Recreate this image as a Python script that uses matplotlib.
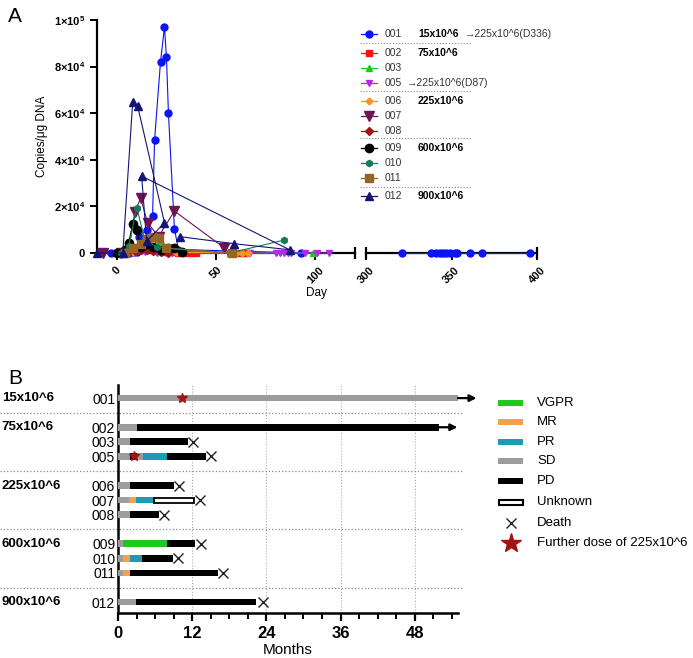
import numpy as np
import matplotlib
matplotlib.use('Agg')
import matplotlib.pyplot as plt
import matplotlib.transforms as mtransforms
from matplotlib.patches import Rectangle

plt.rcParams['font.family'] = ['Liberation Sans', 'DejaVu Sans']
plt.rcParams['mathtext.fontset'] = 'custom'
plt.rcParams['mathtext.rm'] = 'Liberation Sans'
plt.rcParams['mathtext.bf'] = 'Liberation Sans:bold'

# ---- Panel A data (day, copies/ug DNA), in recorded order ----
d001_day = [-3, 0, 2, 4, 6, 8, 10, 11, 15, 18, 19, 22, 24, 25, 26, 29, 31, 93,
            321, 338, 341, 343, 345, 347, 349, 352, 353, 361, 368, 396]
d001_val = [0, 0, 0, 0, 100, 300, 600, 7000, 10000, 16000, 48500, 82000, 97000, 84000,
            60000, 10500, 1500, 0, 0, 0, 0, 0, 0, 0, 0, 0, 0, 0, 0, 0]
d002_day = [2, 5, 8, 10, 12, 14, 16, 18, 20, 22, 24, 26, 28, 31, 34, 37, 40, 58, 62, 65]
d002_val = [0, 300, 800, 1200, 1500, 2500, 2000, 1500, 1000, 800, 600, 500, 300, 200,
            100, 0, 0, 0, 0, 0]
d003_day = [1, 5, 10, 15, 19, 22, 26, 57, 99]
d003_val = [0, 500, 2000, 4500, 2500, 5000, 1500, 0, 0]
d005_day = [-8, 0, 3, 6, 9, 14, 20, 28, 67, 80, 82, 84, 86, 88, 95, 101, 107]
d005_val = [0, 0, 0, 100, 200, 300, 100, 0, 0, 0, 0, 0, 0, 0, 0, 0, 0]
d006_day = [3, 8, 12, 15, 18, 22, 26, 30, 60, 63, 66]
d006_val = [0, 500, 1500, 2500, 2000, 1200, 800, 300, 0, 0, 0]
d007_day = [-7, 2, 6, 9, 12, 15.5, 21, 29, 54]
d007_val = [0, 0, 1000, 17500, 23500, 13000, 7000, 18000, 2300]
d008_day = [5, 9, 12, 15, 18, 22, 26]
d008_val = [0, 800, 1500, 1200, 1000, 500, 200]
d009_day = [0, 4, 6, 8, 10, 12, 15, 18, 22, 26, 29, 33]
d009_val = [0, 1500, 4500, 12500, 10000, 2500, 4000, 2500, 1500, 2000, 2000, 500]
d010_day = [2, 6, 10, 14, 20, 57, 84]
d010_val = [0, 3000, 19500, 6000, 2500, 0, 5500]
d011_day = [4, 8, 12, 15, 18, 21, 25, 58]
d011_val = [0, 2000, 4000, 6000, 7000, 6500, 2000, 0]
d012_day = [-10, 3, 8, 10.5, 24, 15, 12.5, 87, 59, 32]
d012_val = [0, 0, 65000, 63000, 13000, 5000, 33000, 1400, 4000, 7000]

pat_ids = ['001', '002', '003', '005', '006', '007', '008', '009', '010', '011', '012']
pat_days = [d001_day, d002_day, d003_day, d005_day, d006_day, d007_day, d008_day,
            d009_day, d010_day, d011_day, d012_day]
pat_vals = [d001_val, d002_val, d003_val, d005_val, d006_val, d007_val, d008_val,
            d009_val, d010_val, d011_val, d012_val]
pat_colors = ['#0a14f5', '#f51414', '#1ec81e', '#b428e6', '#f5961e', '#6e1450',
              '#a01414', '#000000', '#14785a', '#966423', '#141478']
pat_markers = ['o', 's', '^', 'v', 'D', 'v', 'D', 'o', 'h', 's', '^']
pat_msize = [5, 5, 5, 5, 3.5, 7, 4.5, 6, 4.5, 6, 6]
legend_dose = ['15x10^6', '75x10^6', '', '', '225x10^6', '', '', '600x10^6', '', '', '900x10^6']
legend_note = ['\u2192225x10^6(D336)', '', '', '\u2192225x10^6(D87)', '', '', '', '', '', '', '']

# ---- Panel B data: response segments (category, end month) ----
b_ids = ['001', '002', '003', '005', '006', '007', '008', '009', '010', '011', '012']
b_rows = [0, 2, 3, 4, 6, 7, 8, 10, 11, 12, 14]
seg_001 = [('SD', 55)]
seg_002 = [('SD', 3.0), ('PD', 51.9)]
seg_003 = [('SD', 1.9), ('PD', 11.4)]
seg_005 = [('SD', 1.9), ('PD', 3.0), ('SD', 4.0), ('PR', 8.0), ('PD', 14.3)]
seg_006 = [('SD', 1.9), ('PD', 9.0)]
seg_007 = [('SD', 1.8), ('MR', 2.9), ('PR', 5.9), ('Unknown', 12.3)]
seg_008 = [('SD', 1.9), ('PD', 6.7)]
seg_009 = [('SD', 0.8), ('VGPR', 8.0), ('PD', 12.5)]
seg_010 = [('SD', 0.8), ('MR', 1.9), ('PR', 3.9), ('PD', 8.9)]
seg_011 = [('SD', 0.8), ('MR', 1.9), ('PD', 16.1)]
seg_012 = [('SD', 2.9), ('PD', 22.3)]
b_segs = [seg_001, seg_002, seg_003, seg_005, seg_006, seg_007, seg_008,
          seg_009, seg_010, seg_011, seg_012]
death_month = [None, None, 12.2, 15.1, 9.9, 13.3, 7.4, 13.4, 9.7, 17.0, 23.4]
ongoing = [True, True, False, False, False, False, False, False, False, False, False]
star_month = [10.3, None, None, 2.6, None, None, None, None, None, None, None]
group_labels = ['15x10^6', '75x10^6', '225x10^6', '600x10^6', '900x10^6']
group_rows = [0, 2, 6, 10, 14]
sep_rows = [1, 5, 9, 13]

resp_names = ['VGPR', 'MR', 'PR', 'SD', 'PD', 'Unknown']
resp_colors = {'VGPR': '#1ec81e', 'MR': '#f5a04b', 'PR': '#1e9bb4', 'SD': '#9b9ba0',
               'PD': '#000000', 'Unknown': '#ffffff'}

W, H = 693, 658
fig = plt.figure(figsize=(W / 100, H / 100), dpi=100)


def box(x0, y0, x1, y1):
    return [x0 / W, 1 - y1 / H, (x1 - x0) / W, (y1 - y0) / H]


# ================= Panel A =================
axL = fig.add_axes(box(97, 20, 355, 253))
axR = fig.add_axes(box(366, 20, 537, 253))
ranges = {axL: (-10, 120), axR: (300, 400)}
for ax in (axL, axR):
    lo, hi = ranges[ax]
    for d, v, c, m, ms in zip(pat_days, pat_vals, pat_colors, pat_markers, pat_msize):
        d = np.array(d, float)
        v = np.array(v, float)
        keep = (d >= lo) & (d <= hi)
        if keep.any():
            ax.plot(d[keep], v[keep], color=c, marker=m, markersize=ms, lw=0.8,
                    clip_on=False, zorder=3)
    ax.set_xlim(lo, hi)
    ax.set_ylim(0, 100000)
    ax.spines['top'].set_visible(False)
    ax.spines['right'].set_visible(False)
    ax.spines['bottom'].set_linewidth(1.6)
    ax.spines['left'].set_linewidth(1.6)
    ax.tick_params(width=1.4, length=5)

axL.set_xticks([0, 50, 100])
axL.set_xticklabels(['0', '50', '100'], rotation=45, fontsize=8, fontweight='bold',
                    ha='center')
axL.set_yticks([0, 20000, 40000, 60000, 80000, 100000])
axL.set_yticklabels(['0', r'$\mathbf{2{\times}10^{4}}$', r'$\mathbf{4{\times}10^{4}}$',
                     r'$\mathbf{6{\times}10^{4}}$', r'$\mathbf{8{\times}10^{4}}$',
                     r'$\mathbf{1{\times}10^{5}}$'], fontsize=8, fontweight='bold')
axL.set_ylabel('Copies/\u03bcg DNA', fontsize=8.5, labelpad=4)
axL.plot([120], [0], marker='|', markersize=9, mew=1.6, color='black', clip_on=False, zorder=4)

axR.set_xticks([300, 350, 400])
axR.set_xticklabels(['300', '350', '400'], rotation=45, fontsize=8, fontweight='bold',
                    ha='center')
axR.spines['left'].set_visible(False)
axR.set_yticks([])
axR.plot([300, 400], [0, 0], marker='|', markersize=9, mew=1.6, ls='none',
         color='black', clip_on=False, zorder=4)
fig.text(316 / W, 1 - 293 / H, 'Day', ha='center', va='center', fontsize=8.5)
fig.text(8 / W, 1 - 16 / H, 'A', fontsize=15, ha='left', va='center')

# overlay axes in pixel units for the legends
ov = fig.add_axes([0, 0, 1, 1])
ov.set_xlim(0, W)
ov.set_ylim(H, 0)
ov.axis('off')

leg_y = [34, 53, 68, 83, 101, 116, 131, 148, 163, 178, 196]
for i in range(len(pat_ids)):
    y = leg_y[i]
    ov.plot([361, 377], [y, y], color=pat_colors[i], lw=0.9)
    ov.plot([369], [y], color=pat_colors[i], marker=pat_markers[i], markersize=pat_msize[i])
    ov.text(385, y, pat_ids[i], fontsize=7.5, va='center', color='#333333')
    if legend_dose[i]:
        ov.text(418, y, legend_dose[i], fontsize=7.5, va='center', fontweight='bold')
    if legend_note[i]:
        nx = 465 if legend_dose[i] else 407
        ov.text(nx, y, legend_note[i], fontsize=7.5, va='center', color='#333333')
for y in [43, 91, 138, 187]:
    ov.plot([360, 471], [y, y], ls=':', lw=0.8, color='#888888')

# ================= Panel B =================
axB = fig.add_axes(box(118, 385, 458, 613))
bh = 0.46
for pid, row, segs, dm, og, sm in zip(b_ids, b_rows, b_segs, death_month, ongoing, star_month):
    start = 0
    for cat, end in segs:
        if cat == 'Unknown':
            axB.barh(row, end - start, left=start, height=bh * 0.75, color='white',
                     edgecolor='black', lw=1.3, zorder=3)
        else:
            axB.barh(row, end - start, left=start, height=bh, color=resp_colors[cat],
                     lw=0, zorder=3)
        start = end
    if dm is not None:
        axB.plot(dm, row, marker='x', color='#222222', markersize=7, mew=1.0,
                 zorder=4, clip_on=False)
    if og:
        axB.annotate('', xy=(start + 3.0, row), xytext=(start, row),
                     arrowprops=dict(arrowstyle='-|>', color='black', lw=1.6,
                                     mutation_scale=10, shrinkA=0, shrinkB=0),
                     annotation_clip=False, zorder=4)
    if sm is not None:
        axB.plot(sm, row, marker='*', color='#a01414', markersize=7, zorder=5)

axB.set_xlim(0, 55)
axB.set_ylim(14.75, -0.9)
axB.set_xticks([0, 12, 24, 36, 48])
axB.set_xticks(np.arange(3, 55, 3), minor=True)
axB.set_xticklabels(['0', '12', '24', '36', '48'], fontsize=12, fontweight='bold')
axB.set_yticks(b_rows)
axB.set_yticklabels(b_ids, fontsize=10)
axB.tick_params(axis='y', length=0, pad=2)
axB.tick_params(axis='x', which='major', length=6, width=1.6)
axB.tick_params(axis='x', which='minor', length=4, width=1.4)
axB.spines['top'].set_visible(False)
axB.spines['right'].set_visible(False)
axB.spines['left'].set_linewidth(1.8)
axB.spines['bottom'].set_linewidth(1.8)
axB.set_xlabel('Months', fontsize=11, labelpad=1)
for m in [12, 24, 36, 48]:
    axB.axvline(m, ls=':', lw=0.8, color='#aaaaaa', zorder=1)
for r in sep_rows:
    axB.axhline(r, xmin=-0.347, xmax=1.015, ls=':', lw=0.9, color='#888888',
                clip_on=False, zorder=1)
trans = mtransforms.blended_transform_factory(axB.transAxes, axB.transData)
for lab, r in zip(group_labels, group_rows):
    axB.text(-0.342, r, lab, transform=trans, fontsize=9.5, fontweight='bold',
             ha='left', va='center')
fig.text(8 / W, 1 - 378 / H, 'B', fontsize=15, ha='left', va='center')

# Panel B legend
lb_y = [403, 422, 442, 461, 481, 502, 523, 543]
for name, y in zip(resp_names, lb_y):
    if name == 'Unknown':
        ov.add_patch(Rectangle((499, y - 2.5), 24, 5, facecolor='white',
                               edgecolor='black', lw=1.5))
    else:
        ov.add_patch(Rectangle((498, y - 3), 25, 6, facecolor=resp_colors[name], lw=0))
    ov.text(537, y, name, fontsize=9.5, va='center')
ov.plot([510.5], [lb_y[6]], marker='x', color='#222222', markersize=7, mew=1.0)
ov.text(537, lb_y[6], 'Death', fontsize=9.5, va='center')
ov.plot([510.5], [lb_y[7]], marker='*', color='#a01414', markersize=15)
ov.text(537, lb_y[7], 'Further dose of 225x10^6', fontsize=9.5, va='center')

fig.savefig('out.png', dpi=100)
